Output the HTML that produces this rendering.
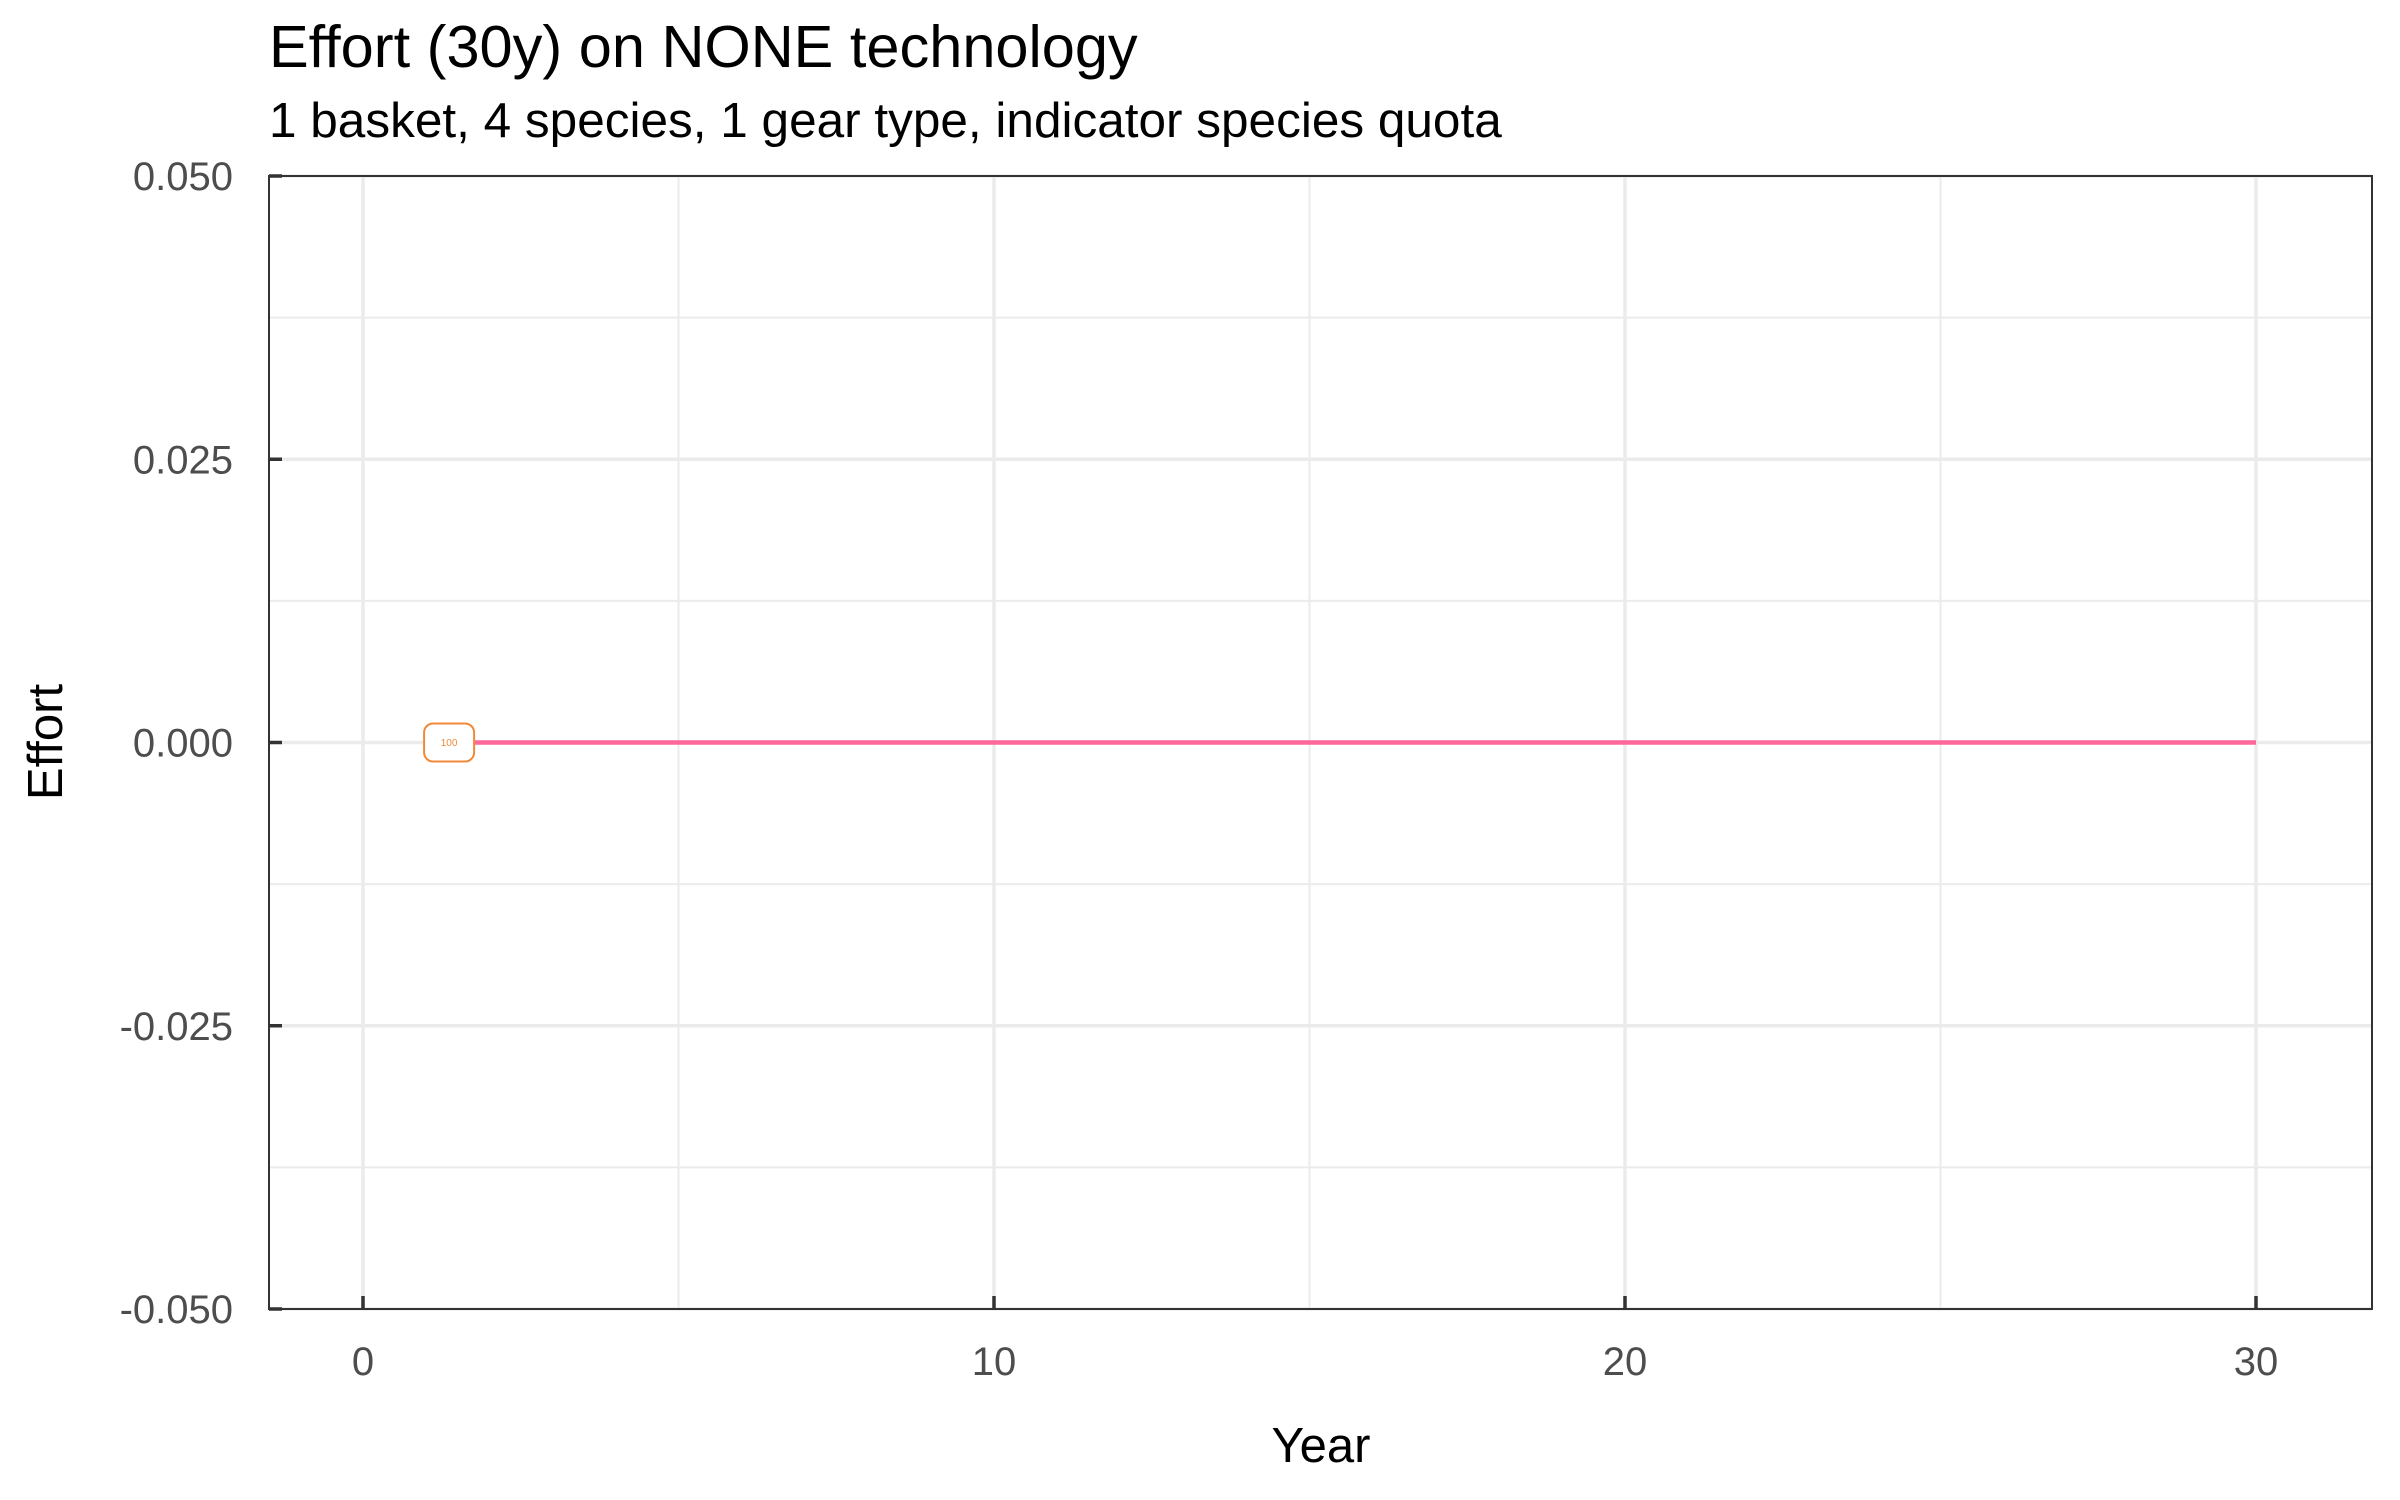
<!DOCTYPE html>
<html><head><meta charset="utf-8"><style>
html,body{margin:0;padding:0;background:#fff;}
svg{display:block;font-family:"Liberation Sans",sans-serif;}
</style></head><body>
<svg id="chart" width="2400" height="1500" viewBox="0 0 2400 1500" xmlns="http://www.w3.org/2000/svg">
<text x="269" y="67" font-size="59.5" fill="#000">Effort (30y) on NONE technology</text>
<text x="269" y="137" font-size="49.5" fill="#000">1 basket, 4 species, 1 gear type, indicator species quota</text>
<g id="grid"></g>
<g id="series"></g>
<rect x="269" y="176" width="2103" height="1133" fill="none" stroke="#333" stroke-width="2"/>
<g id="axes"></g>
<text x="1321" y="1462" font-size="49" text-anchor="middle" fill="#000">Year</text>
<text x="62" y="742" font-size="49" text-anchor="middle" fill="#000" transform="rotate(-90 62 742)">Effort</text>
</svg>
<script>
const years = [1,2,3,4,5,6,7,8,9,10,11,12,13,14,15,16,17,18,19,20,21,22,23,24,25,26,27,28,29,30];
const effort = [0,0,0,0,0,0,0,0,0,0,0,0,0,0,0,0,0,0,0,0,0,0,0,0,0,0,0,0,0,0];
const seriesLabel = ["100"];
const xTicks = [0,10,20,30];
const xMinor = [5,15,25];
const yTicks = [0.05,0.025,0,-0.025,-0.05];
const yTickLabels = ["0.050","0.025","0.000","-0.025","-0.050"];
const yMinor = [0.0375,0.0125,-0.0125,-0.0375];

const NS="http://www.w3.org/2000/svg";
const L=269,R=2372,T=176,B=1309;
function xs(v){return 363+(v-0)*(2256-363)/30;}
function ys(v){return T+(0.05-v)*(B-T)/0.1;}
function mk(tag,attrs,parent){const e=document.createElementNS(NS,tag);for(const k in attrs)e.setAttribute(k,attrs[k]);parent.appendChild(e);return e;}
const grid=document.getElementById('grid'),axes=document.getElementById('axes'),series=document.getElementById('series');
xMinor.forEach(v=>{const e=mk('line',{x1:xs(v),x2:xs(v),y1:T,y2:B,stroke:'#EBEBEB','stroke-width':2},grid);

});
yMinor.forEach(v=>{const e=mk('line',{x1:L,x2:R,y1:ys(v),y2:ys(v),stroke:'#EBEBEB','stroke-width':2},grid);

});
xTicks.forEach(v=>{const e=mk('line',{x1:xs(v),x2:xs(v),y1:T,y2:B,stroke:'#EBEBEB','stroke-width':3.5},grid);


const t=mk('line',{x1:xs(v),x2:xs(v),y1:B-13,y2:B,stroke:'#333','stroke-width':3.5},axes);


const l=mk('text',{x:xs(v),y:1375,'font-size':40,'text-anchor':'middle',fill:'#4D4D4D'},axes);l.textContent=v;

});
yTicks.forEach((v,i)=>{const e=mk('line',{x1:L,x2:R,y1:ys(v),y2:ys(v),stroke:'#EBEBEB','stroke-width':3.5},grid);


const t=mk('line',{x1:L,x2:L+13,y1:ys(v),y2:ys(v),stroke:'#333','stroke-width':3.5},axes);


const l=mk('text',{x:233,y:ys(v)+14,'font-size':40,'text-anchor':'end',fill:'#4D4D4D'},axes);l.textContent=yTickLabels[i];

});
const pts=years.map((y,i)=>xs(y)+','+ys(effort[i])).join(' ');
const line=mk('polyline',{points:pts,fill:'none',stroke:'#FF6699','stroke-width':4.5},series);


const lx=xs(years[0])+23,ly=ys(effort[0]);
const box=mk('rect',{x:lx-25,y:ly-19,width:50,height:38,rx:9,fill:'#fff',stroke:'#F08A3A','stroke-width':2},series);


const lt=mk('text',{x:lx,y:ly+3.5,'font-size':10,'text-anchor':'middle',fill:'#F08A3A'},series);lt.textContent=seriesLabel[0];


</script>
</body></html>
